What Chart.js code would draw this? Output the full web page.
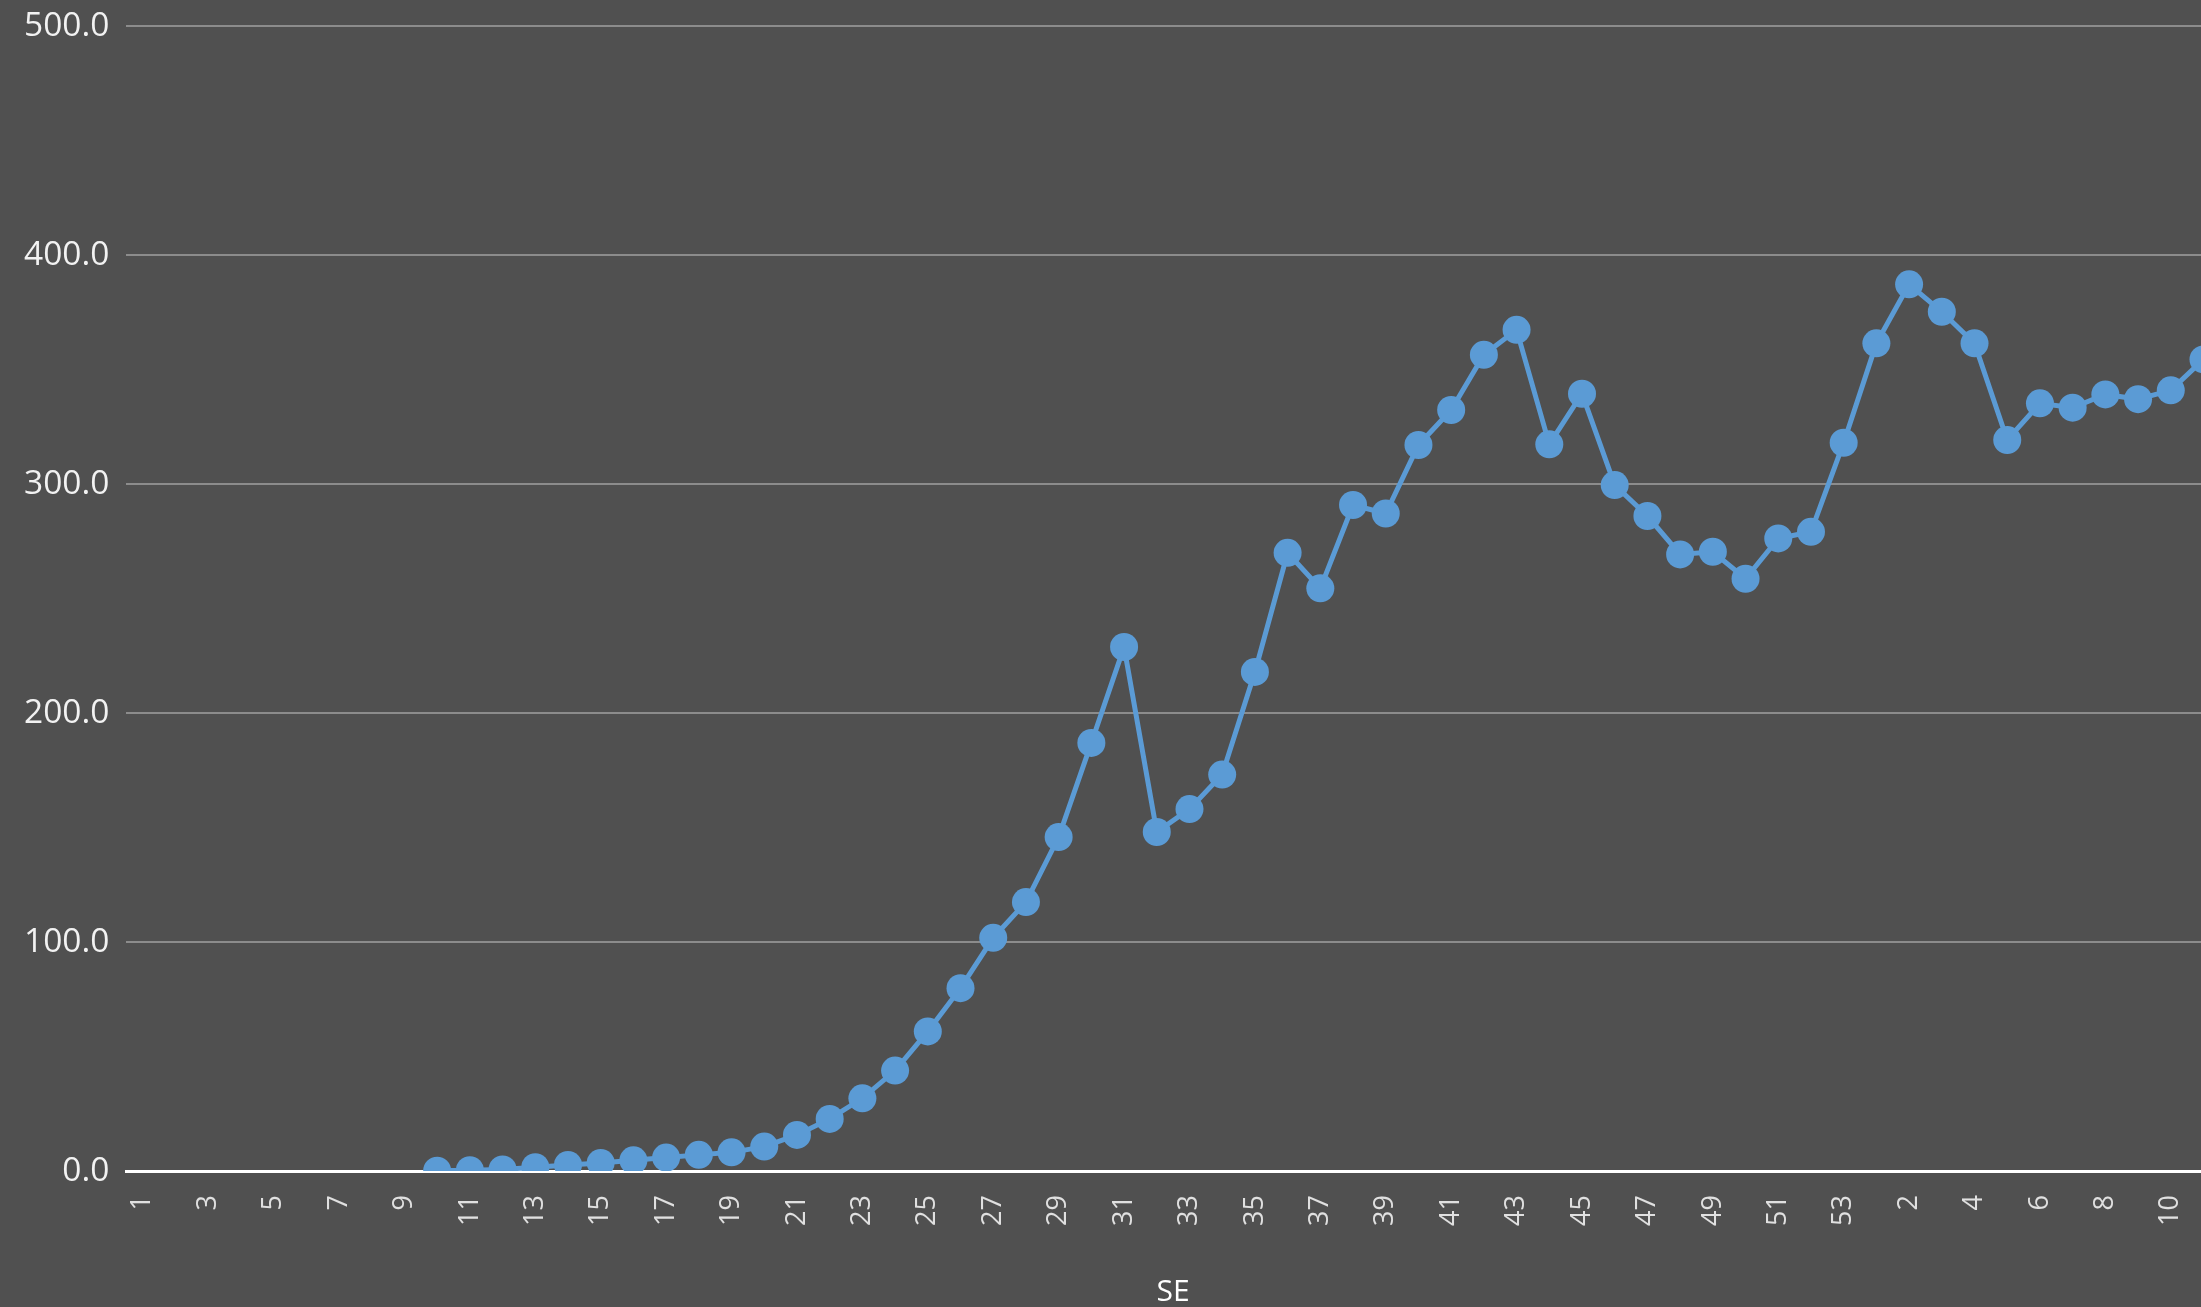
<!DOCTYPE html>
<html>
<head>
<meta charset="utf-8">
<script src="https://cdn.jsdelivr.net/npm/chart.js@4.4.1/dist/chart.umd.min.js"></script>
<style>
  html, body { margin: 0; padding: 0; background: #505050; overflow: hidden; }
  #wrap { width: 2201px; height: 1307px; overflow: hidden; position: relative; }
  #grafico { display: block; width: 2252px; height: 1307px; }
</style>
</head>
<body>
<div id="wrap"><canvas id="grafico" width="2252" height="1307"></canvas></div>
<script>
// semanas epidemiológicas: 2020 (1-53) e depois 2021 (1-11)
let semanas2020 = ['1','2','3','4','5','6','7','8','9','10','11','12','13','14','15','16','17','18','19','20',
  '21','22','23','24','25','26','27','28','29','30','31','32','33','34','35','36','37','38','39','40',
  '41','42','43','44','45','46','47','48','49','50','51','52','53']
let semanas2021 = ['1','2','3','4','5','6','7','8','9','10','11']

let valores2020 = [null,null,null,null,null,null,null,null,null,0.2,
  0.4,0.7,1.7,2.7,3.6,4.7,5.9,7.1,8.2,10.7,
  15.8,22.8,31.8,43.9,61.0,79.9,101.9,117.5,145.9,187.0,
  228.9,148.1,158.1,173.2,218.0,270.0,254.5,290.9,287.2,317.1,
  332.4,356.5,367.4,317.4,339.5,299.6,286.1,269.3,270.5,258.7,
  276.3,279.2,318.1]
let valores2021 = [361.5,387.3,375.3,361.5,319.3,335.3,333.4,339.2,337.1,341.0,354.5]

let ticksY = [0,100,200,300,400,500]

const labelx = semanas2020.concat(semanas2021)
const valores = valores2020.concat(valores2021)

const ctx = document.getElementById('grafico')

let grafico = new Chart(ctx, {
  type: 'line',
  data: {
    labels: labelx,
    datasets: [{
      label: 'Casos',
      data: valores,
      borderColor: '#5b9bd5',
      backgroundColor: '#5b9bd5',
      borderWidth: 5,
      pointRadius: 14,
      pointHoverRadius: 14,
      pointBorderWidth: 0,
      tension: 0
    }]
  },
  options: {
    responsive: false,
    devicePixelRatio: 1,
    animation: false,
    layout: { padding: { top: 0, right: 0, bottom: 0, left: 7 } },
    plugins: {
      legend: { display: false },
      tooltip: { enabled: false }
    },
    scales: {
      x: {
        offset: true,
        grid: { display: false },
        border: { display: true, color: '#ffffff', width: 3 },
        ticks: {
          autoSkip: false,
          maxRotation: 90,
          minRotation: 90,
          padding: 16,
          color: '#e0e0e0',
          font: { family: 'Open Sans', size: 27 },
          callback: (v, i) => i % 2 === 0 ? labelx[i] : ''
        },
        title: {
          display: true,
          text: 'SE',
          color: '#ffffff',
          font: { family: 'Open Sans', size: 30, lineHeight: 1.0 },
          padding: { top: 35, bottom: 0 }
        }
      },
      y: {
        min: 0,
        max: 500,
        afterBuildTicks: axis => { axis.ticks = ticksY.map(v => ({ value: v })) },
        grid: {
          drawTicks: false,
          color: c => c.tick && c.tick.value === 0 ? '#ffffff' : '#8c8c8c',
          lineWidth: c => c.tick && c.tick.value === 0 ? 3 : 2
        },
        border: { display: false },
        ticks: {
          padding: 17,
          color: '#f2f2f2',
          font: { family: 'Open Sans', size: 33.5, lineHeight: 0.55 },
          callback: v => v.toFixed(1)
        }
      }
    }
  }
})
</script>
</body>
</html>
